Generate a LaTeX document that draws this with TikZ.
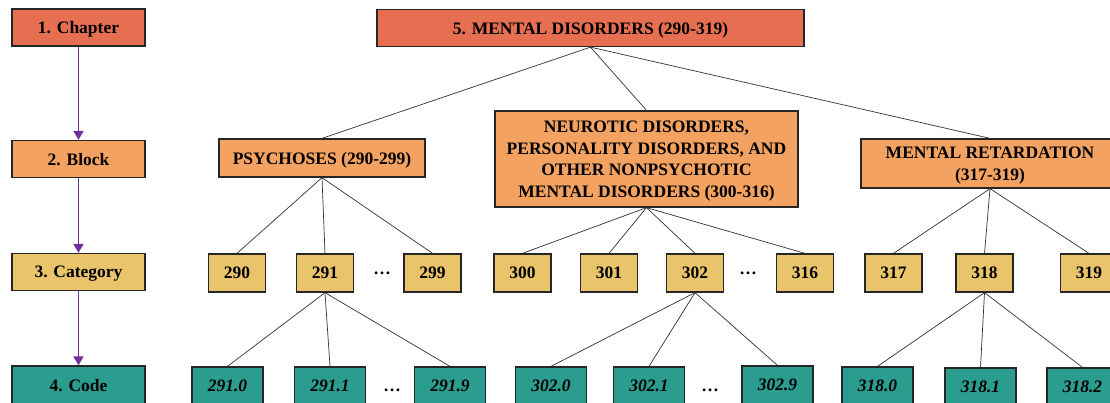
\documentclass[tikz,border=0pt]{standalone}
\usepackage{fontspec}
\setmainfont{Liberation Serif}
\usetikzlibrary{arrows.meta}
\definecolor{cChap}{HTML}{E76F51}
\definecolor{cBlock}{HTML}{F4A261}
\definecolor{cCat}{HTML}{E9C46A}
\definecolor{cCode}{HTML}{2A9D8F}
\definecolor{cArrow}{RGB}{112,48,160}
\definecolor{cLine}{RGB}{50,50,50}
\tikzset{
  box/.style={draw=black!85, line width=1.3pt, inner sep=0pt, align=center, text depth=0pt,
    font=\fontsize{17.5}{21.5}\selectfont\bfseries},
  chapbox/.style={box, fill=cChap},
  blockbox/.style={box, fill=cBlock},
  catbox/.style={box, fill=cCat, minimum width=57pt, minimum height=38pt},
  codebox/.style={box, fill=cCode, minimum width=71pt, minimum height=38pt,
    font=\fontsize{17.5}{21.5}\selectfont\bfseries\itshape},
  legbox/.style={box, minimum width=133pt, minimum height=37pt},
  level/.style={draw=cArrow, line width=1.8pt, -{Triangle[width=10pt,length=9pt]}},
  tree/.style={draw=cLine, line width=0.7pt},
  dots/.style={inner sep=0pt, font=\fontsize{17.5}{21.5}\selectfont\bfseries}
}
\begin{document}
\begin{tikzpicture}[x=1pt,y=-1pt]
\clip (0,0) rectangle (1110,403);
\fill[white] (0,0) rectangle (1110,403);
% legend column
\node[legbox, fill=cChap] (L1) at (78.5,27.5) {1. Chapter};
\node[legbox, fill=cBlock] (L2) at (78.5,159) {2. Block};
\node[legbox, fill=cCat] (L3) at (78.5,272) {3. Category};
\node[legbox, fill=cCode, minimum height=38pt] (L4) at (78.5,385) {4. Code};
\draw[level] (L1.south) -- (L2.north);
\draw[level] (L2.south) -- (L3.north);
\draw[level] (L3.south) -- (L4.north);
% chapter
\node[chapbox, minimum width=427pt, minimum height=37pt] (ch) at (590.5,28) {5. MENTAL DISORDERS (290-319)};
% blocks
\node[blockbox, minimum width=206pt, minimum height=38pt] (b1) at (322,158) {PSYCHOSES (290-299)};
\node[blockbox, minimum width=303pt, minimum height=96pt] (b2) at (646.5,159) {NEUROTIC DISORDERS,\\PERSONALITY DISORDERS, AND\\OTHER NONPSYCHOTIC\\MENTAL DISORDERS (300-316)};
\node[blockbox, minimum width=258pt, minimum height=49pt] (b3) at (990,163.5) {MENTAL RETARDATION\\(317-319)};
% categories
\node[catbox] (c290) at (237,273) {290};
\node[catbox] (c291) at (325,273) {291};
\node[dots] (d1) at (382,273) {\ldots};
\node[catbox] (c299) at (432.5,273) {299};
\node[catbox] (c300) at (522.5,273) {300};
\node[catbox] (c301) at (609,273) {301};
\node[catbox] (c302) at (695,273) {302};
\node[dots] (d2) at (748,273) {\ldots};
\node[catbox] (c316) at (805,273) {316};
\node[catbox] (c317) at (893.5,273) {317};
\node[catbox] (c318) at (984.5,273) {318};
\node[catbox] (c319) at (1089,273) {319};
% codes
\node[codebox] (k2910) at (227.5,386) {291.0};
\node[codebox] (k2911) at (330,386) {291.1};
\node[dots] (d3) at (392,390) {\ldots};
\node[codebox] (k2919) at (450,386) {291.9};
\node[codebox] (k3020) at (551,386) {302.0};
\node[codebox] (k3021) at (649,386) {302.1};
\node[dots] (d4) at (710,390) {\ldots};
\node[codebox] (k3029) at (777.5,385) {302.9};
\node[codebox] (k3180) at (877.5,386) {318.0};
\node[codebox] (k3181) at (980.5,387) {318.1};
\node[codebox] (k3182) at (1082.5,387) {318.2};
% tree connectors
\foreach \b in {b1,b2,b3} \draw[tree] (ch.south) -- (\b.north);
\foreach \c in {c290,c291,c299} \draw[tree] (b1.south) -- (\c.north);
\foreach \c in {c300,c301,c302,c316} \draw[tree] (b2.south) -- (\c.north);
\foreach \c in {c317,c318,c319} \draw[tree] (b3.south) -- (\c.north);
\foreach \k in {k2910,k2911,k2919} \draw[tree] (c291.south) -- (\k.north);
\foreach \k in {k3020,k3021,k3029} \draw[tree] (c302.south) -- (\k.north);
\foreach \k in {k3180,k3181,k3182} \draw[tree] (c318.south) -- (\k.north);
\end{tikzpicture}
\end{document}
